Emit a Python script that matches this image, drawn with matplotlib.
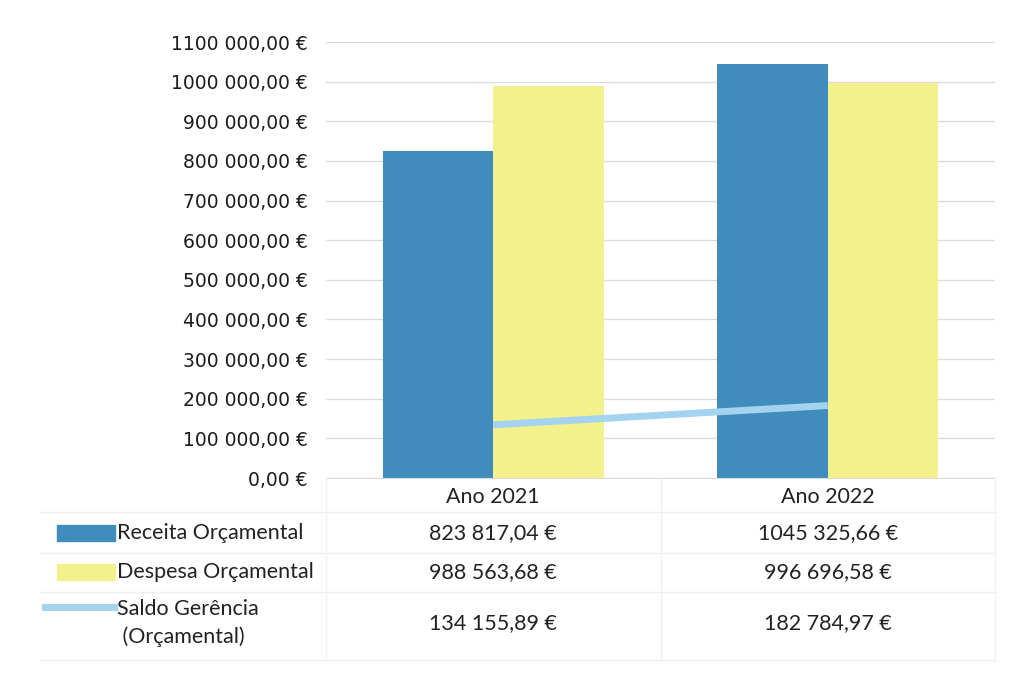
import numpy as np
import matplotlib
matplotlib.use("Agg")
from matplotlib import pyplot as plt
from matplotlib.patches import Rectangle
from matplotlib.lines import Line2D

# chart data
anos = ["Ano 2021", "Ano 2022"]
receita = [823817.04, 1045325.66]
despesa = [988563.68, 996696.58]
saldo = [134155.89, 182784.97]
series_names = ["Receita Orçamental", "Despesa Orçamental", "Saldo Gerência\n (Orçamental)"]
yticks = np.arange(0, 1100001, 100000)

c_rec = "#3f8cbd"
c_desp = "#f3f08e"
c_saldo = "#a3d3ee"
c_grid = "#dcdcdc"

def eur(v):
    # excel style: only the last group of 3 is separated
    ip, dp = f"{v:.2f}".split(".")
    if len(ip) > 3:
        ip = ip[:-3] + " " + ip[-3:]
    return ip + "," + dp + " €"

plt.rcParams['font.family'] = ['Lato', 'DejaVu Sans']

W, H = 1009, 675
fig = plt.figure(figsize=(W / 100, H / 100), dpi=100)
ax = fig.add_axes([326 / W, 1 - 478 / H, (995 - 326) / W, (478 - 42) / H])

x = np.arange(len(anos))
bw = 0.33
ax.bar(x - bw / 2, receita, bw, color=c_rec, zorder=2)
ax.bar(x + bw / 2, despesa, bw, color=c_desp, zorder=2)
ax.plot(x, saldo, color=c_saldo, lw=5, zorder=3, solid_capstyle="butt")

ax.set_xlim(-0.5, 1.5)
ax.set_ylim(0, 1100000)
ax.set_yticks(yticks)
ax.set_yticklabels([eur(v) for v in yticks], fontsize=13.5, color="#1c1c1c",
                   family="DejaVu Sans")
ax.set_xticks([])
ax.tick_params(axis="y", length=0, pad=13)
ax.grid(axis="y", color=c_grid, lw=1, zorder=0)
for s in ["top", "right", "left"]:
    ax.spines[s].set_visible(False)
ax.spines["bottom"].set_color(c_grid)

# data table under the plot
def fy(py):
    return 1 - py / H

blend = matplotlib.transforms.blended_transform_factory(ax.transData, fig.transFigure)
fs = 15.5

for i, a in enumerate(anos):
    fig.text(x[i], fy(497), a, transform=blend, ha="center", va="center", fontsize=fs, color="#222222")

rows_y = [533, 572, 623]
values = [receita, despesa, saldo]
for r, (name, vals, yy) in enumerate(zip(series_names, values, rows_y)):
    for i in range(len(anos)):
        fig.text(x[i], fy(yy), eur(vals[i]), transform=blend, ha="center", va="center",
                 fontsize=fs, color="#222222")
    fig.text(117 / W, fy(yy), name, ha="left", va="center", fontsize=fs, color="#222222",
             linespacing=1.45)

# legend keys
fig.add_artist(Rectangle((57 / W, fy(541)), 58 / W, 16 / H, transform=fig.transFigure,
                         color=c_rec))
fig.add_artist(Rectangle((57 / W, fy(580)), 58 / W, 16 / H, transform=fig.transFigure,
                         color=c_desp))
fig.add_artist(Line2D([45 / W, 114 / W], [fy(607), fy(607)], transform=fig.transFigure,
                      color=c_saldo, lw=5))

# table grid lines
for yy in [512, 553, 592, 660]:
    fig.add_artist(Line2D([40 / W, 995 / W], [fy(yy), fy(yy)], transform=fig.transFigure,
                          color="#efefef", lw=1))
for xx in [326, 661, 995]:
    fig.add_artist(Line2D([xx / W, xx / W], [fy(478), fy(660)], transform=fig.transFigure,
                          color="#f2f2f2", lw=1))

fig.savefig("out.png", dpi=100, facecolor="white")
